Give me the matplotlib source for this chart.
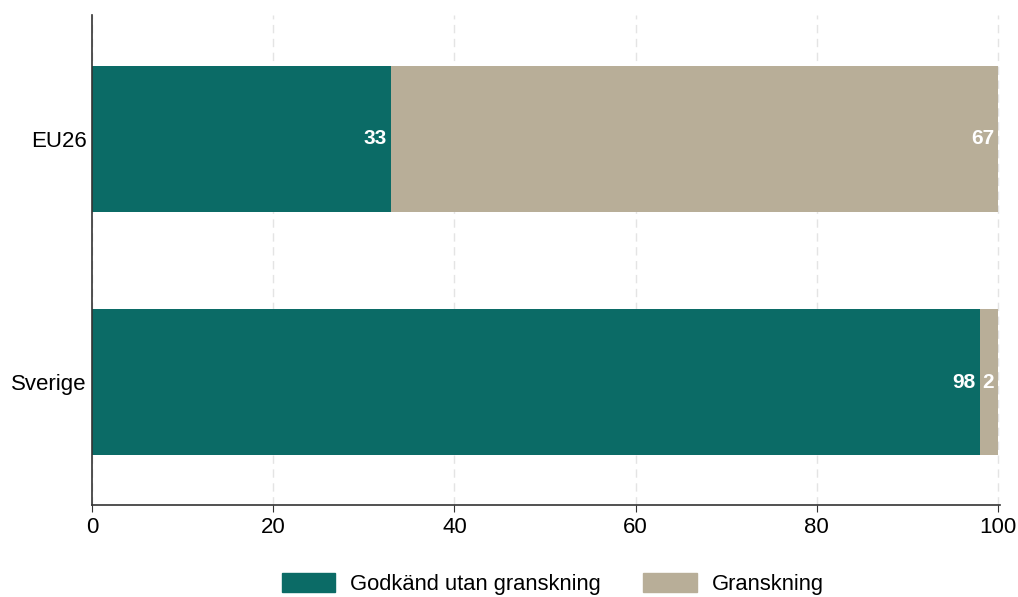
import matplotlib.pyplot as plt
from matplotlib.patches import Patch

regions = ["Sverige", "EU26"]
approved = [98, 33]
reviewed = [2, 67]
series_names = ["Godkänd utan granskning", "Granskning"]
x_ticks = [0, 20, 40, 60, 80, 100]

teal = "#0b6b66"
tan = "#b8ae98"

plt.rcParams["font.family"] = ["Liberation Sans", "DejaVu Sans"]

fig = plt.figure(figsize=(10.18, 5.97), dpi=100)
ax = fig.add_axes([0.0904, 0.154, 0.8918, 0.821])

pos = list(range(len(regions)))
ax.barh(pos, approved, height=0.6, color=teal, zorder=2)
ax.barh(pos, reviewed, left=approved, height=0.6, color=tan, zorder=2)

for y, a, r in zip(pos, approved, reviewed):
    ax.annotate(str(a), (a, y), xytext=(-3, 0), textcoords="offset points",
                ha="right", va="center", color="white", fontsize=15,
                fontweight="bold", zorder=3)
    ax.annotate(str(r), (a + r, y), xytext=(-3, 0), textcoords="offset points",
                ha="right", va="center", color="white", fontsize=15,
                fontweight="bold", zorder=3)

ax.set_xlim(0, 100.2)
ax.set_ylim(-0.505, 1.51)
ax.set_xticks(x_ticks)
ax.set_yticks(pos)
ax.set_yticklabels(regions)
ax.tick_params(axis="both", labelsize=16, length=5, color="#333333")
ax.tick_params(axis="y", length=0, pad=4)
ax.grid(axis="x", color="#e4e4e4", linestyle=(0, (6, 4)), linewidth=1, zorder=0)

for side in ["top", "right"]:
    ax.spines[side].set_visible(False)
for side in ["left", "bottom"]:
    ax.spines[side].set_color("#333333")
    ax.spines[side].set_linewidth(1.2)

handles = [Patch(color=teal), Patch(color=tan)]
fig.legend(handles, series_names, loc="center", bbox_to_anchor=(0.543, 0.022),
           ncol=2, frameon=False, fontsize=15.8, handlelength=2.43, handleheight=1.0,
           columnspacing=1.93, handletextpad=0.69)

fig.savefig("out.png", dpi=100)
